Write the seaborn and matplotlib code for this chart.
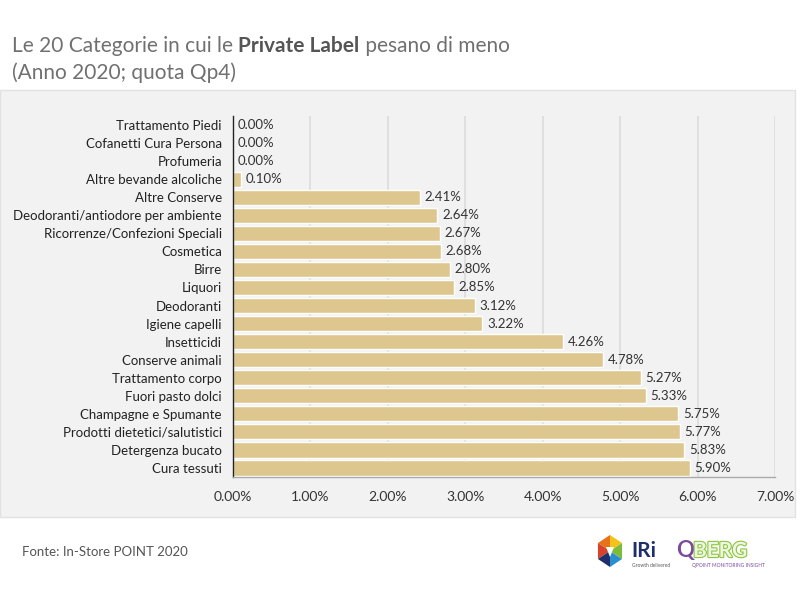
import numpy as np
import pandas as pd
import matplotlib
matplotlib.use("Agg")
import matplotlib.pyplot as plt
import matplotlib.patheffects as pe
from matplotlib.patches import Rectangle, Polygon
from matplotlib.ticker import FuncFormatter
import seaborn as sns

categorie = [
    "Trattamento Piedi", "Cofanetti Cura Persona", "Profumeria",
    "Altre bevande alcoliche", "Altre Conserve",
    "Deodoranti/antiodore per ambiente", "Ricorrenze/Confezioni Speciali",
    "Cosmetica", "Birre", "Liquori", "Deodoranti", "Igiene capelli",
    "Insetticidi", "Conserve animali", "Trattamento corpo",
    "Fuori pasto dolci", "Champagne e Spumante",
    "Prodotti dietetici/salutistici", "Detergenza bucato", "Cura tessuti",
]
quota = [0.00, 0.00, 0.00, 0.10, 2.41, 2.64, 2.67, 2.68, 2.80, 2.85,
         3.12, 3.22, 4.26, 4.78, 5.27, 5.33, 5.75, 5.77, 5.83, 5.90]
xticks = [0, 1, 2, 3, 4, 5, 6, 7]

df = pd.DataFrame({"categoria": categorie, "quota": quota})

sns.set_theme(style="white")
plt.rcParams["font.family"] = ["Lato", "DejaVu Sans"]

fig = plt.figure(figsize=(8, 6), dpi=100)
fig.patch.set_facecolor("white")

# pannello grigio (dietro agli assi)
fig.patches.append(Rectangle((0.0, 1 - 517 / 600), 795 / 800, 427 / 600,
                             transform=fig.transFigure, facecolor="#f2f2f2",
                             edgecolor="#e2e2e2", lw=1, zorder=-5))

ax = fig.add_axes([233 / 800, 1 - 477 / 600, 542 / 800, 361 / 600])
ax.set_zorder(2)
ax.set_facecolor("#f2f2f2")
sns.barplot(data=df, y="categoria", x="quota", orient="h", color="#dec78e",
            saturation=1, width=0.84, ax=ax, zorder=2)

ax.set_xlim(0, 7)
ax.set_xticks(xticks)
ax.xaxis.set_major_formatter(FuncFormatter(lambda v, p: f"{v:.2f}%"))
ax.set_xlabel("")
ax.set_ylabel("")
ax.grid(axis="x", color="#dcdcdc", lw=1.2, zorder=0)
ax.set_axisbelow(True)
for s in ["top", "right"]:
    ax.spines[s].set_visible(False)
ax.spines["left"].set_color("#222222")
ax.spines["left"].set_linewidth(1)
ax.spines["bottom"].set_color("#aaaaaa")
ax.spines["bottom"].set_linewidth(1)
ax.tick_params(axis="x", length=0, pad=10, labelsize=10, labelcolor="#333333")
ax.tick_params(axis="y", length=0, pad=8, labelsize=9.5, labelcolor="#222222")

for i, v in enumerate(quota):
    ax.text(v + 0.06, i, f"{v:.2f}%", va="center", ha="left",
            fontsize=9.5, color="#333333", zorder=3)

# titolo con parte in grassetto
fig.canvas.draw()
r = fig.canvas.get_renderer()
x0, y0 = 12 / 800, 1 - 52 / 600
pezzi = [("Le 20 Categorie in cui le ", "normal", "#707070"),
         ("Private Label", "bold", "#555555"),
         (" pesano di meno", "normal", "#707070")]
xc = x0
for testo, peso, col in pezzi:
    t = fig.text(xc, y0, testo, fontsize=15, color=col,
                 fontweight=peso, ha="left", va="baseline")
    bb = t.get_window_extent(renderer=r)
    xc += bb.width / fig.bbox.width
fig.text(x0, 1 - 79 / 600, "(Anno 2020; quota Qp4)", fontsize=15,
         color="#707070", fontweight="normal", ha="left", va="baseline")

fig.text(22 / 800, 1 - 556 / 600, "Fonte: In-Store POINT 2020", fontsize=9.5,
         color="#555555", ha="left", va="baseline")

# logo IRi (esagono stilizzato)
cx, cy, rad = 610, 551, 16
colori = ["#f4c31a", "#e8711c", "#d6432a", "#1f2f6b", "#2a8fd0", "#7dbb3a"]
ang = np.deg2rad(np.arange(6) * 60 + 30)
for k in range(6):
    a1, a2 = ang[k], ang[(k + 1) % 6]
    pts = [(cx, cy), (cx + rad * np.cos(a1) * 0.87, cy - rad * np.sin(a1)),
           (cx + rad * np.cos(a2) * 0.87, cy - rad * np.sin(a2))]
    pts = [(px / 800, 1 - py / 600) for px, py in pts]
    fig.patches.append(Polygon(pts, closed=True, transform=fig.transFigure,
                               facecolor=colori[k], edgecolor="none"))
fig.patches.append(Polygon([((cx - 4) / 800, 1 - (cy - 4) / 600),
                            ((cx + 4) / 800, 1 - (cy - 4) / 600),
                            (cx / 800, 1 - (cy + 6) / 600)], closed=True,
                           transform=fig.transFigure, facecolor="white",
                           edgecolor="none"))
fig.text(631 / 800, 1 - 557 / 600, "IRi", fontsize=15, fontweight="bold",
         color="#1f2f6b", ha="left", va="baseline")
fig.text(632 / 800, 1 - 567 / 600, "Growth delivered", fontsize=3.5,
         color="#555555", ha="left", va="baseline")

# logo QBERG
fig.text(676 / 800, 1 - 557 / 600, "Q", fontsize=16, fontweight="bold",
         color="#7a4a9c", ha="left", va="baseline")
fig.text(693 / 800, 1 - 557 / 600, "BERG", fontsize=15, fontweight="bold",
         color="#eef5e0", ha="left", va="baseline",
         path_effects=[pe.withStroke(linewidth=1.6, foreground="#8cc63f")])
fig.text(692 / 800, 1 - 567 / 600, "QPOINT MONITORING INSIGHT", fontsize=3.5,
         color="#7a4a9c", ha="left", va="baseline")

fig.savefig("out.png", dpi=100, facecolor="white")
